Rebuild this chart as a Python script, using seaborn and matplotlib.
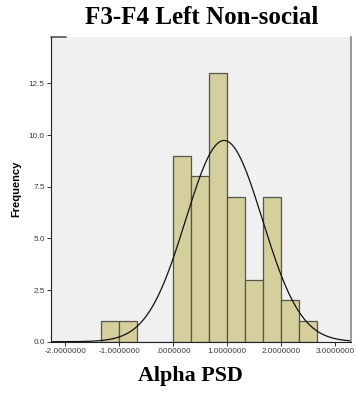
import numpy as np
import pandas as pd
import matplotlib
matplotlib.use("Agg")
import matplotlib.pyplot as plt
import seaborn as sns

# Histogram bins (width 1/3) and frequencies
bin_width = 1.0 / 3.0
bin_start = -4.0 / 3.0
counts = [1, 1, 0, 0, 9, 8, 13, 7, 3, 7, 2, 1]

# Fitted normal curve parameters
curve_mean = 0.94
curve_sd = 0.71

x_ticks = [-2, -1, 0, 1, 2, 3]
x_tick_labels = ["-2.0000000", "-1.0000000", ".0000000", "1.0000000", "2.0000000", "3.0000000"]
y_ticks = [0.0, 2.5, 5.0, 7.5, 10.0, 12.5]
y_tick_labels = ["0.0", "2.5", "5.0", "7.5", "10.0", "12.5"]

sns.set_style("white")
plt.rcParams["font.family"] = ["Liberation Sans", "DejaVu Sans"]

edges = bin_start + bin_width * np.arange(len(counts) + 1)
centers = (edges[:-1] + edges[1:]) / 2
df = pd.DataFrame({"value": centers, "count": np.array(counts, dtype=float)})

W, H = 356, 393
fig = plt.figure(figsize=(W / 100, H / 100), dpi=100)
ax = fig.add_axes([51 / W, 51.3 / H, 300 / W, 305 / H])
ax.set_facecolor("#F0F0F0")

sns.histplot(data=df, x="value", weights="count", binwidth=bin_width,
             binrange=(float(edges[0]), float(edges[-1])), ax=ax,
             color="#D4CF9C", edgecolor="#55554A", linewidth=0.9, alpha=1.0)

# Normal curve scaled to the histogram
n_total = sum(counts)
xs = np.linspace(-2.265, 3.29, 400)
ys = n_total * bin_width * np.exp(-0.5 * ((xs - curve_mean) / curve_sd) ** 2) / (curve_sd * np.sqrt(2 * np.pi))
sns.lineplot(x=xs, y=ys, ax=ax, color="#111111", linewidth=0.9)

ax.set_xlim(-2.265, 3.29)
ax.set_ylim(0, 14.76)
ax.set_xticks(x_ticks)
ax.set_xticklabels(x_tick_labels)
ax.set_yticks(y_ticks)
ax.set_yticklabels(y_tick_labels)
ax.tick_params(axis="both", labelsize=5.9, labelcolor="#3A3A3A", length=3, width=0.7,
               color="#333333", pad=1.5, direction="out", bottom=True, left=True)

for side in ["left", "bottom"]:
    ax.spines[side].set_color("#222222")
    ax.spines[side].set_linewidth(0.8)
ax.spines["right"].set_color("#888888")
ax.spines["right"].set_linewidth(1.2)
ax.spines["top"].set_visible(False)
# short stub at the top-left corner of the frame
ax.plot([-2.265, -1.98], [14.76, 14.76], color="#555555", linewidth=1.2, clip_on=False)

ax.set_xlabel("")
ax.set_ylabel("")
fig.text(16 / W, 1 - 189 / H, "Frequency", rotation=90, ha="center", va="center",
         fontsize=8, fontweight="bold", color="black")
fig.text(190.5 / W, 1 - 376 / H, "Alpha PSD", ha="center", va="center",
         fontsize=15.8, fontweight="bold", family="Liberation Serif", color="black")
fig.text(201.5 / W, 1 - 17.5 / H, "F3-F4 Left Non-social", ha="center", va="center",
         fontsize=18, fontweight="bold", family="Liberation Serif", color="black")

fig.savefig("out.png", dpi=100)
